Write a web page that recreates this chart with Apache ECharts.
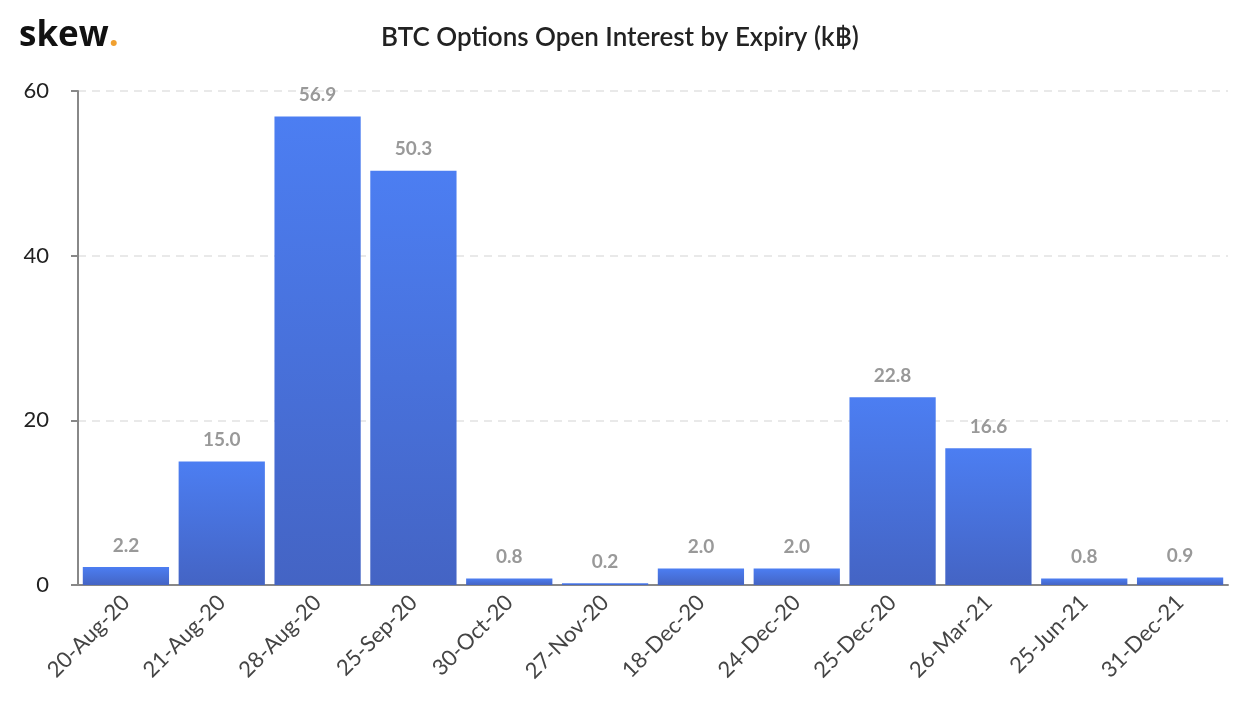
<!DOCTYPE html>
<html><head><meta charset="utf-8">
<script src="https://cdn.jsdelivr.net/npm/echarts@6/dist/echarts.min.js"></script>
<style>html,body{margin:0;padding:0;background:#fff}#c{width:1240px;height:718px}</style>
</head><body><div id="c"></div>
<script>
const categories = ['20-Aug-20','21-Aug-20','28-Aug-20','25-Sep-20','30-Oct-20','27-Nov-20','18-Dec-20','24-Dec-20','25-Dec-20','26-Mar-21','25-Jun-21','31-Dec-21'];
const openInterest = [2.2, 15.0, 56.9, 50.3, 0.8, 0.2, 2.0, 2.0, 22.8, 16.6, 0.8, 0.9];
const yTicks = [0, 20, 40, 60];

const chart = echarts.init(document.getElementById('c'));
chart.setOption({
  animation: false,
  textStyle: { fontFamily: 'Lato' },
  title: [
    { text: 'BTC Options Open Interest by Expiry (k\u0E3F)', left: 'center', top: 20,
      textStyle: { fontFamily: 'Lato', fontSize: 26, fontWeight: 600, color: '#222' } },
    { text: '{s|skew}{d|.}', left: 14, top: 14,
      textStyle: { rich: {
        s: { fontFamily: 'Open Sans', fontSize: 35, fontWeight: 'bold', color: '#111' },
        d: { fontFamily: 'Open Sans', fontSize: 35, fontWeight: 'bold', color: '#f0a030' } } } }
  ],
  grid: { left: 78, right: 12, top: 91, bottom: 133 },
  xAxis: {
    type: 'category', data: categories,
    axisLine: { lineStyle: { color: '#888', width: 2 } },
    axisTick: { show: false },
    axisLabel: { rotate: 45, fontSize: 22, color: '#444', margin: 14, interval: 0 }
  },
  yAxis: {
    type: 'value', min: 0, max: 60, interval: 20,
    axisLine: { show: true, lineStyle: { color: '#888', width: 2 } },
    axisTick: { show: true, length: 7, lineStyle: { color: '#888', width: 2 } },
    axisLabel: { fontSize: 22, color: '#222', margin: 29,
      formatter: v => yTicks.includes(v) ? String(v) : '' },
    splitLine: { show: true, lineStyle: { color: '#e2e2e2', type: [8, 6], width: 1.5 } }
  },
  series: [{
    type: 'bar', data: openInterest, barCategoryGap: '10%',
    itemStyle: {
      color: new echarts.graphic.LinearGradient(0, 0, 0, 1, [
        { offset: 0, color: '#4c7ef2' }, { offset: 1, color: '#4464c4' }])
    },
    label: { show: true, position: 'top', distance: 12, fontSize: 19, fontWeight: 'bold',
      color: '#999', formatter: p => p.value.toFixed(1) }
  }]
});
</script></body></html>
